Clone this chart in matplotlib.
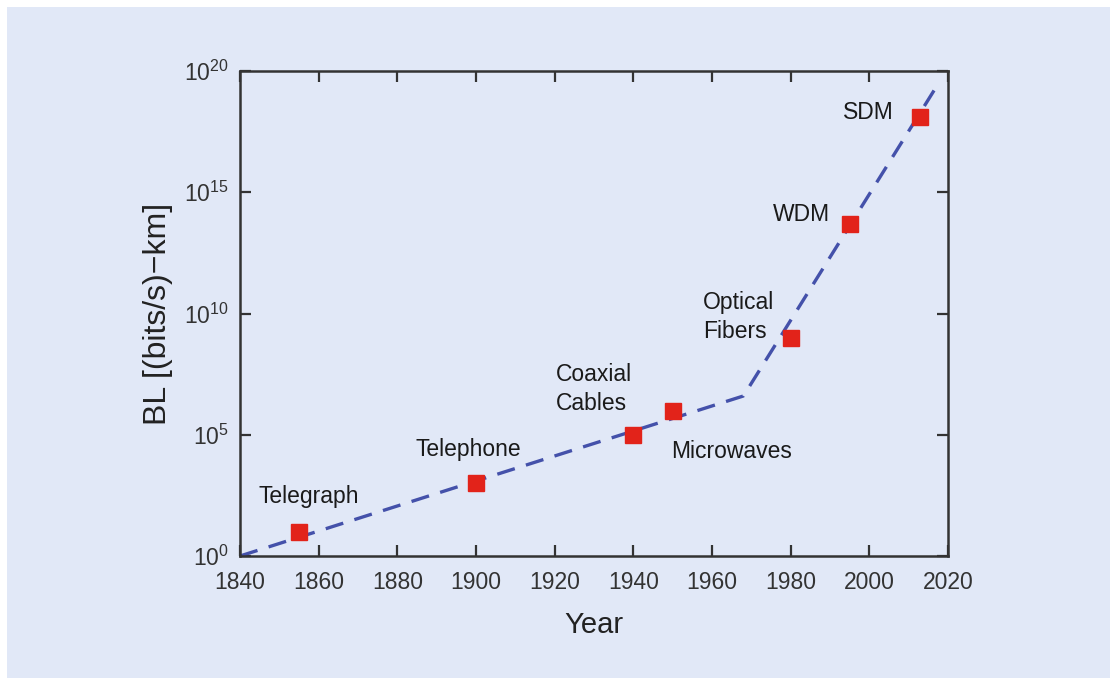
import matplotlib
matplotlib.use("Agg")
import matplotlib.pyplot as plt
from matplotlib.patches import Rectangle
import numpy as np

plt.rcParams['font.family'] = ['Liberation Sans', 'DejaVu Sans']
plt.rcParams['mathtext.fontset'] = 'custom'
plt.rcParams['mathtext.rm'] = 'Liberation Sans'
plt.rcParams['mathtext.default'] = 'regular'

# milestones: year and log10 of bit-rate-distance product
tech_names = ['Telegraph', 'Telephone', 'Coaxial\nCables', 'Microwaves',
              'Optical\nFibers', 'WDM', 'SDM']
tech_years = [1855, 1900, 1940, 1950, 1980, 1995, 2013]
tech_logbl = [1.0, 3.0, 5.0, 6.0, 9.0, 13.7, 18.1]

# label anchors (year, log10 BL)
label_years = [1844.6, 1884.7, 1920.3, 1949.6, 1957.7, 1975.5, 1993.3]
label_logbl = [2.45, 4.4, 6.9, 4.3, 9.85, 14.1, 18.3]

# trend line
trend_years = [1840, 1968, 2018]
trend_logbl = [0.0, 6.6, 19.6]

xticks = [1840, 1860, 1880, 1900, 1920, 1940, 1960, 1980, 2000, 2020]
yexps = [0, 5, 10, 15, 20]

bg = '#e1e8f7'
fig = plt.figure(figsize=(11.1, 6.78), dpi=100, facecolor='white')
fig.patches.append(Rectangle((7 / 1110, 0), 1, 1 - 7 / 678, transform=fig.transFigure,
                             facecolor=bg, edgecolor='none', zorder=-10))

ax = fig.add_axes([240 / 1110, 122 / 678, 708 / 1110, 485 / 678])
ax.set_facecolor(bg)
ax.set_yscale('log')

ax.plot(trend_years, 10.0 ** np.array(trend_logbl), color='#4451aa', lw=2.4,
        dashes=(5.5, 3.5), zorder=2)
ax.plot(tech_years, 10.0 ** np.array(tech_logbl), ls='none', marker='s',
        markersize=11.5, color='#e2231a', zorder=3)

for name, lx, ly in zip(tech_names, label_years, label_logbl):
    ax.text(lx, 10.0 ** ly, name, fontsize=16.5, color='#1a1a1a', ha='left',
            va='center', linespacing=1.35)

ax.set_xlim(1840, 2020)
ax.set_ylim(1, 1e20)
ax.set_xticks(xticks)
ax.set_yticks([10.0 ** e for e in yexps])
ax.set_yticklabels(['$10^{%d}$' % e for e in yexps])
ax.minorticks_off()
ax.tick_params(direction='in', length=8, width=1.6, top=True, right=True,
               labelsize=16.5, colors='#333333')
ax.tick_params(axis='x', pad=11)
ax.tick_params(axis='y', pad=8)
for s in ax.spines.values():
    s.set_linewidth(1.8)
    s.set_color('#333333')

ax.set_xlabel('Year', fontsize=21, color='#222222', labelpad=12)
ax.set_ylabel('BL [(bits/s)\u2212km]', fontsize=23, color='#222222', labelpad=8)

fig.savefig('out.png', dpi=100, facecolor=fig.get_facecolor())
